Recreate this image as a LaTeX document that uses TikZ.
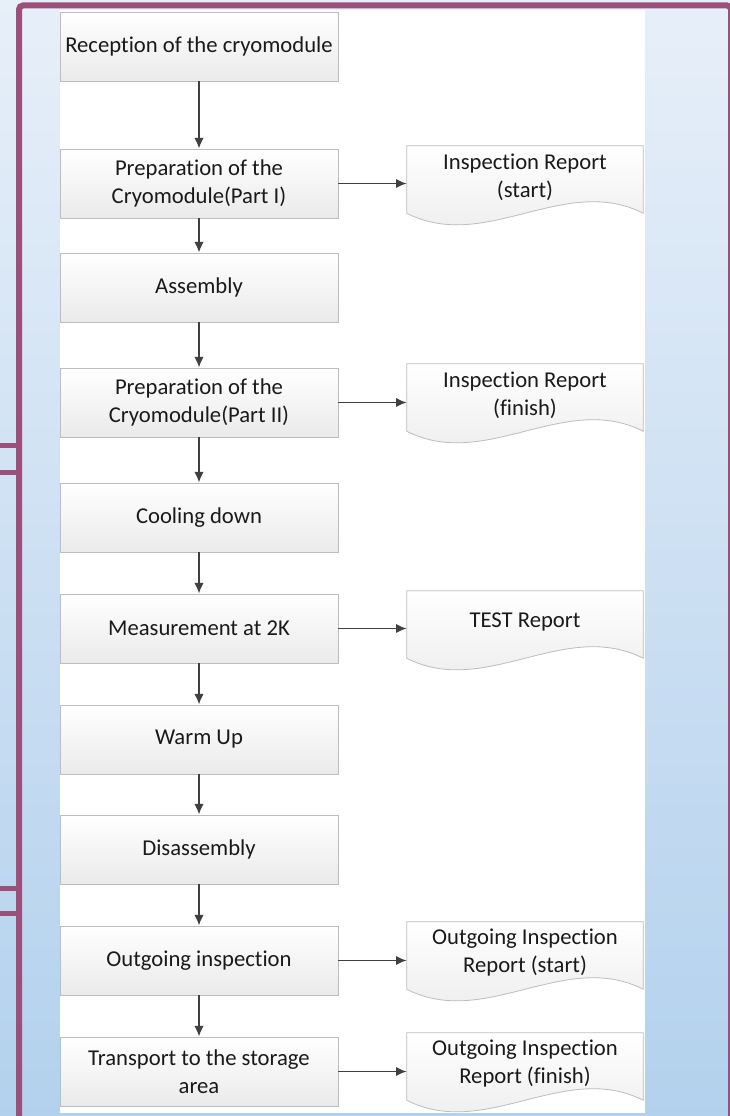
\documentclass[tikz,border=0pt]{standalone}
\usepackage{fontspec}
\setmainfont{Carlito}[Ligatures=NoCommon]
\usetikzlibrary{arrows.meta,shadows,backgrounds}

\definecolor{bgtop}{HTML}{E7EFF9}
\definecolor{bgbot}{HTML}{B3D1ED}
\definecolor{frame}{HTML}{9B4F7A}
\definecolor{boxline}{HTML}{BDBDBD}
\definecolor{boxbot}{HTML}{EAEAEA}
\definecolor{arrcol}{HTML}{404040}
\definecolor{txt}{HTML}{1A1A1A}

\begin{document}
\begin{tikzpicture}[x=0.75pt,y=-0.75pt,
	font=\fontsize{17}{21}\selectfont,
	proc/.style={draw=boxline,line width=0.6pt,top color=white,bottom color=boxbot,
		minimum width=208.5pt,minimum height=51.75pt,inner xsep=2pt,align=center,text=txt,
		drop shadow={opacity=0.12,shadow xshift=1pt,shadow yshift=-1pt}},
	docu/.style={minimum width=177pt,minimum height=46.5pt,inner sep=0pt,align=center,text=txt},
	docline/.style={draw=boxline,line width=0.6pt,top color=white,bottom color=boxbot},
	arr/.style={-{Latex[length=8pt,width=7pt]},draw=arrcol,line width=1.3pt}]
	
	\useasboundingbox (0,0) rectangle (730,1116);
	\begin{scope}[on background layer]
		\fill[top color=bgtop,bottom color=bgbot] (0,0) rectangle (730,1116);
		\fill[white] (60,10) rectangle (645,1113);
		\draw[frame,line width=4.5pt,rounded corners=3pt] (19,5.5) rectangle (731,1130);
		\draw[frame,line width=3.75pt] (0,445) -- (19,445) (0,472) -- (19,472)
			(0,888) -- (19,888) (0,913) -- (19,913);
	\end{scope}
	
	\node[proc] (rec)   at (199, 46.5)   {Reception of the cryomodule};
	\node[proc] (prep1) at (199, 183.5)  {Preparation of the\\Cryomodule(Part I)};
	\node[proc] (asm)   at (199, 287.5)  {Assembly};
	\node[proc] (prep2) at (199, 402.5)  {Preparation of the\\Cryomodule(Part II)};
	\node[proc] (cool)  at (199, 517.5)  {Cooling down};
	\node[proc] (meas)  at (199, 628.5)  {Measurement at 2K};
	\node[proc] (warm)  at (199, 739.5)  {Warm Up};
	\node[proc] (dis)   at (199, 849.5)  {Disassembly};
	\node[proc] (out)   at (199, 960.5)  {Outgoing inspection};
	\node[proc] (trans) at (199, 1071.5) {Transport to the storage\\area};
	
	\node[docu] (rep1) at (525, 177)  {Inspection Report\\(start)};
	\node[docu] (rep2) at (525, 395)  {Inspection Report\\(finish)};
	\node[docu] (rep3) at (525, 622)  {TEST Report};
	\node[docu] (rep4) at (525, 953)  {Outgoing Inspection\\Report (start)};
	\node[docu] (rep5) at (525, 1064) {Outgoing Inspection\\Report (finish)};
	
	% document outlines behind the texts
	\begin{scope}[on background layer]
		\foreach \d in {rep1,rep2,rep3,rep4,rep5}
			\draw[docline] (\d.north west) -- (\d.north east) -- ([yshift=-3.75pt]\d.south east)
				.. controls +(-79,-40) and +(79,40) .. ([yshift=-3.75pt]\d.south west) -- cycle;
	\end{scope}
	
	\path (rec) edge[arr] (prep1);
	\path (prep1) edge[arr] (asm);
	\path (asm) edge[arr] (prep2);
	\path (prep2) edge[arr] (cool);
	\path (cool) edge[arr] (meas);
	\path (meas) edge[arr] (warm);
	\path (warm) edge[arr] (dis);
	\path (dis) edge[arr] (out);
	\path (out) edge[arr] (trans);
	
	\path (prep1.east) edge[arr] (prep1.east -| rep1.west);
	\path (prep2.east) edge[arr] (prep2.east -| rep2.west);
	\path (meas.east) edge[arr] (meas.east -| rep3.west);
	\path (out.east) edge[arr] (out.east -| rep4.west);
	\path (trans.east) edge[arr] (trans.east -| rep5.west);
	
\end{tikzpicture}
\end{document}
